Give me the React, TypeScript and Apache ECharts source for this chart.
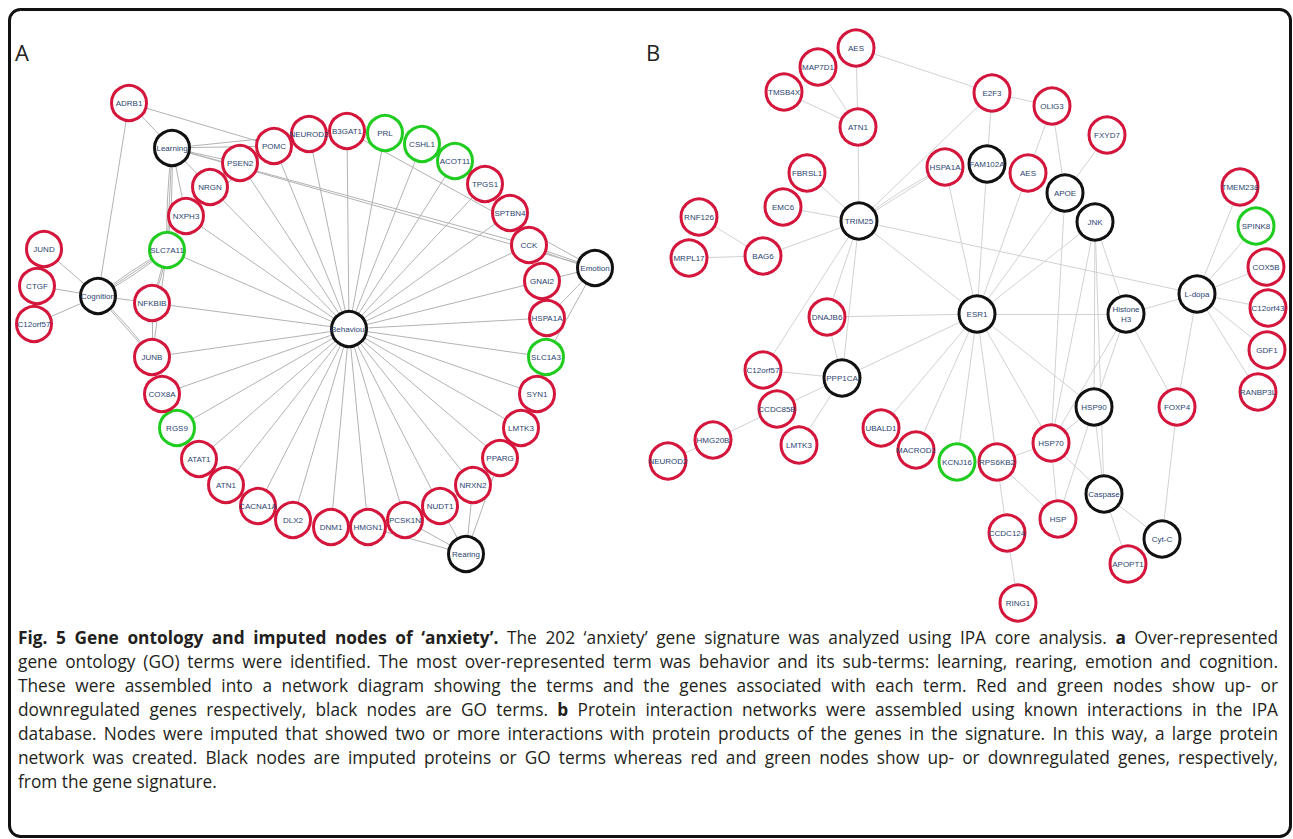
import React, { useEffect, useRef } from "react";
import * as echarts from "echarts";

type Kind = "up" | "down" | "term";
type NodeRow = [string, number, number, Kind];
type LinkRow = [string, string, number?];

const WIDTH = 1293;
const HEIGHT = 839;

// Panel A: GO terms (black) and the signature genes attached to them
const panelANodes: NodeRow[] = [
  ["ADRB1", 129, 103, "up"],
  ["Learning", 172, 148, "term"],
  ["POMC", 274, 146, "up"],
  ["NEUROD2", 309, 134, "up"],
  ["B3GAT1", 347, 131, "up"],
  ["PRL", 385, 133, "down"],
  ["CSHL1", 422, 144, "down"],
  ["ACOT11", 455, 161, "down"],
  ["TPGS1", 485, 184, "up"],
  ["SPTBN4", 510, 213, "up"],
  ["CCK", 529, 245, "up"],
  ["Emotion", 595, 268, "term"],
  ["GNAI2", 542, 281, "up"],
  ["HSPA1A", 547, 318, "up"],
  ["SLC1A3", 546, 357, "down"],
  ["SYN1", 537, 394, "up"],
  ["LMTK3", 521, 428, "up"],
  ["PPARG", 500, 458, "up"],
  ["NRXN2", 473, 485, "up"],
  ["NUDT1", 440, 506, "up"],
  ["PCSK1N", 405, 520, "up"],
  ["HMGN1", 368, 527, "up"],
  ["DNM1", 331, 527, "up"],
  ["DLX2", 293, 520, "up"],
  ["CACNA1A", 258, 506, "up"],
  ["ATN1", 226, 485, "up"],
  ["ATAT1", 199, 459, "up"],
  ["RGS9", 177, 428, "down"],
  ["COX8A", 162, 394, "up"],
  ["JUNB", 152, 357, "up"],
  ["NFKBIB", 152, 303, "up"],
  ["SLC7A11", 167, 250, "down"],
  ["NXPH3", 186, 216, "up"],
  ["NRGN", 210, 187, "up"],
  ["PSEN2", 240, 163, "up"],
  ["JUND", 44, 249, "up"],
  ["CTGF", 37, 286, "up"],
  ["C12orf57", 34, 324, "up"],
  ["Cognition", 98, 296, "term"],
  ["Behaviour", 349, 329, "term"],
  ["Rearing", 466, 554, "term"],
];

const behaviourGenes: string[] = [
  "SLC7A11", "NXPH3", "NRGN", "PSEN2", "POMC", "NEUROD2", "B3GAT1", "PRL",
  "CSHL1", "ACOT11", "TPGS1", "SPTBN4", "CCK", "GNAI2", "HSPA1A", "SLC1A3",
  "SYN1", "LMTK3", "PPARG", "NRXN2", "NUDT1", "PCSK1N", "HMGN1", "DNM1",
  "DLX2", "CACNA1A", "ATN1", "ATAT1", "RGS9", "COX8A", "JUNB", "NFKBIB",
];

const panelALinks: LinkRow[] = [
  ...behaviourGenes.map((g) => ["Behaviour", g] as LinkRow),
  ["Learning", "ADRB1"],
  ["Learning", "POMC"],
  ["Learning", "NEUROD2"],
  ["Learning", "PSEN2"],
  ["Learning", "NRGN"],
  ["Learning", "NXPH3"],
  ["Learning", "SLC7A11"],
  ["Learning", "SLC7A11", 0.04],
  ["Learning", "SLC7A11", -0.04],
  ["Learning", "CCK"],
  ["Learning", "Emotion"],
  ["B3GAT1", "Emotion"],
  ["ADRB1", "POMC"],
  ["ADRB1", "Cognition"],
  ["NXPH3", "POMC"],
  ["Cognition", "JUND"],
  ["Cognition", "CTGF"],
  ["Cognition", "C12orf57"],
  ["Cognition", "SLC7A11"],
  ["Cognition", "SLC7A11", 0.05],
  ["Cognition", "SLC7A11", -0.05],
  ["Cognition", "NFKBIB"],
  ["Cognition", "JUNB"],
  ["Cognition", "JUNB", 0.05],
  ["SLC7A11", "NFKBIB"],
  ["SLC7A11", "NFKBIB", 0.06],
  ["SLC7A11", "JUNB"],
  ["NFKBIB", "JUNB"],
  ["Emotion", "CCK"],
  ["Emotion", "CCK", 0.06],
  ["Emotion", "GNAI2"],
  ["Emotion", "HSPA1A"],
  ["Emotion", "SLC1A3"],
  ["Rearing", "NRXN2"],
  ["Rearing", "PPARG"],
  ["Rearing", "NUDT1"],
  ["Rearing", "PCSK1N"],
  ["Rearing", "HMGN1"],
];

// Panel B: imputed proteins / GO terms (black) and interacting signature genes
const panelBNodes: NodeRow[] = [
  ["AES", 856, 48, "up"],
  ["MAP7D1", 818, 67, "up"],
  ["TMSB4X", 784, 92, "up"],
  ["ATN1", 858, 127, "up"],
  ["FBRSL1", 807, 173, "up"],
  ["HSPA1A", 945, 167, "up"],
  ["EMC6", 783, 207, "up"],
  ["TRIM25", 859, 221, "term"],
  ["RNF126", 699, 217, "up"],
  ["MRPL17", 689, 258, "up"],
  ["BAG6", 763, 256, "up"],
  ["E2F3", 992, 93, "up"],
  ["OLIG3", 1052, 106, "up"],
  ["FXYD7", 1107, 135, "up"],
  ["FAM102A", 987, 164, "term"],
  ["AES-2", 1028, 173, "up"],
  ["APOE", 1065, 193, "term"],
  ["JNK", 1095, 222, "term"],
  ["TMEM238", 1240, 187, "up"],
  ["SPINK8", 1256, 226, "down"],
  ["COX5B", 1266, 267, "up"],
  ["L-dopa", 1197, 294, "term"],
  ["C12orf43", 1268, 308, "up"],
  ["GDF1", 1267, 350, "up"],
  ["RANBP3L", 1258, 392, "up"],
  ["DNAJB6", 827, 317, "up"],
  ["ESR1", 977, 314, "term"],
  ["Histone H3", 1126, 314, "term"],
  ["C12orf57", 763, 370, "up"],
  ["PPP1CA", 842, 378, "term"],
  ["CCDC85B", 777, 409, "up"],
  ["HMG20B", 713, 440, "up"],
  ["LMTK3", 799, 445, "up"],
  ["NEUROD2", 668, 461, "up"],
  ["UBALD1", 881, 428, "up"],
  ["MACROD1", 916, 450, "up"],
  ["KCNJ16", 957, 462, "down"],
  ["HSP90", 1094, 407, "term"],
  ["FOXP4", 1177, 407, "up"],
  ["HSP70", 1051, 443, "up"],
  ["RPS6KB2", 997, 462, "up"],
  ["Caspase", 1104, 494, "term"],
  ["HSP", 1058, 519, "up"],
  ["CCDC124", 1007, 533, "up"],
  ["Cyt-C", 1162, 539, "term"],
  ["APOPT1", 1128, 564, "up"],
  ["RING1", 1018, 603, "up"],
];

const panelBLinks: LinkRow[] = [
  ["AES", "ATN1"], ["AES", "E2F3"], ["MAP7D1", "ATN1"], ["TMSB4X", "ATN1"],
  ["ATN1", "TRIM25"], ["FBRSL1", "TRIM25"], ["EMC6", "TRIM25"], ["BAG6", "TRIM25"],
  ["RNF126", "BAG6"], ["MRPL17", "BAG6"],
  ["TRIM25", "HSPA1A"], ["TRIM25", "HSPA1A", 0.05], ["TRIM25", "E2F3"],
  ["TRIM25", "ESR1"], ["TRIM25", "L-dopa"], ["TRIM25", "DNAJB6"],
  ["TRIM25", "PPP1CA"], ["TRIM25", "C12orf57"],
  ["HSPA1A", "ESR1"], ["FAM102A", "E2F3"], ["FAM102A", "ESR1"],
  ["AES-2", "OLIG3"], ["AES-2", "ESR1"], ["OLIG3", "E2F3"], ["OLIG3", "APOE"],
  ["FXYD7", "APOE"], ["APOE", "ESR1"], ["APOE", "HSP70"],
  ["JNK", "ESR1"], ["JNK", "HSP70"], ["JNK", "HSP90"], ["JNK", "Caspase"],
  ["JNK", "Histone H3"],
  ["ESR1", "DNAJB6"], ["ESR1", "Histone H3"], ["ESR1", "PPP1CA"],
  ["ESR1", "UBALD1"], ["ESR1", "MACROD1"], ["ESR1", "KCNJ16"],
  ["ESR1", "RPS6KB2"], ["ESR1", "HSP70"], ["ESR1", "HSP90"],
  ["Histone H3", "L-dopa"], ["Histone H3", "HSP90"], ["Histone H3", "HSP70"],
  ["Histone H3", "FOXP4"],
  ["L-dopa", "TMEM238"], ["L-dopa", "SPINK8"], ["L-dopa", "COX5B"],
  ["L-dopa", "C12orf43"], ["L-dopa", "GDF1"], ["L-dopa", "RANBP3L"],
  ["L-dopa", "FOXP4"],
  ["HSP90", "HSP70"], ["HSP90", "HSP"], ["HSP90", "Caspase"],
  ["HSP70", "RPS6KB2"], ["HSP70", "HSP"], ["HSP70", "Caspase"],
  ["RPS6KB2", "HSP"], ["RPS6KB2", "CCDC124"], ["CCDC124", "RING1"],
  ["Caspase", "Cyt-C"], ["Caspase", "APOPT1"], ["FOXP4", "Cyt-C"],
  ["PPP1CA", "C12orf57"], ["PPP1CA", "CCDC85B"], ["PPP1CA", "LMTK3"],
  ["PPP1CA", "DNAJB6"], ["CCDC85B", "HMG20B"], ["HMG20B", "NEUROD2"],
];

const nodeText: Record<string, string> = {
  "AES-2": "AES",
  "Histone H3": "Histone\nH3",
};

const kindColor: Record<Kind, string> = {
  up: "#d4163c",
  down: "#1fcc1f",
  term: "#111111",
};

// Figure caption, one entry per printed line; [text, bold]
const captionLines: [string, boolean][][] = [
  [
    ["Fig. 5 Gene ontology and imputed nodes of \u2018anxiety\u2019.", true],
    ["The 202 \u2018anxiety\u2019 gene signature was analyzed using IPA core analysis.", false],
    ["a", true],
    ["Over-represented", false],
  ],
  [["gene ontology (GO) terms were identified. The most over-represented term was behavior and its sub-terms: learning, rearing, emotion and cognition.", false]],
  [["These were assembled into a network diagram showing the terms and the genes associated with each term. Red and green nodes show up- or", false]],
  [
    ["downregulated genes respectively, black nodes are GO terms.", false],
    ["b", true],
    ["Protein interaction networks were assembled using known interactions in the IPA", false],
  ],
  [["database. Nodes were imputed that showed two or more interactions with protein products of the genes in the signature. In this way, a large protein", false]],
  [["network was created. Black nodes are imputed proteins or GO terms whereas red and green nodes show up- or downregulated genes, respectively,", false]],
  [["from the gene signature.", false]],
];

const CAPTION_FAMILY = "Open Sans";
const CAPTION_SIZE = 17.3;
const CAPTION_LEFT = 18;
const CAPTION_RIGHT = 1278;
const CAPTION_TOP = 637;
const CAPTION_STEP = 24;

function captionGraphics(): any[] {
  const canvas = document.createElement("canvas");
  const ctx = canvas.getContext("2d")!;
  const fontOf = (bold: boolean) =>
    `${bold ? "bold " : ""}${CAPTION_SIZE}px "${CAPTION_FAMILY}"`;
  const out: any[] = [];
  captionLines.forEach((segments, li) => {
    const words: { t: string; b: boolean; w: number }[] = [];
    segments.forEach(([text, bold]) => {
      ctx.font = fontOf(bold);
      text.split(" ").forEach((t) => {
        if (t) words.push({ t, b: bold, w: ctx.measureText(t).width });
      });
    });
    ctx.font = fontOf(false);
    const space = ctx.measureText(" ").width;
    const total = words.reduce((s, w) => s + w.w, 0);
    const last = li === captionLines.length - 1;
    const gap = last || words.length < 2
      ? space
      : (CAPTION_RIGHT - CAPTION_LEFT - total) / (words.length - 1);
    let x = CAPTION_LEFT;
    const y = CAPTION_TOP + li * CAPTION_STEP;
    words.forEach((w) => {
      out.push({
        type: "text",
        x,
        y,
        silent: true,
        style: {
          text: w.t,
          fontFamily: CAPTION_FAMILY,
          fontSize: CAPTION_SIZE,
          fontWeight: w.b ? "bold" : "normal",
          fill: "#231f20",
          verticalAlign: "middle",
        },
      });
      x += w.w + gap;
    });
  });
  return out;
}

function graphSeries(id: string, nodes: NodeRow[], links: LinkRow[], edgeColor: string, size: number) {
  return {
    type: "graph",
    id,
    coordinateSystem: "cartesian2d",
    layout: "none",
    symbol: "circle",
    symbolSize: size,
    silent: true,
    emphasis: { disabled: true },
    data: nodes.map(([key, x, y, kind]) => ({
      name: key,
      value: [x, y],
      text: nodeText[key] ?? key,
      itemStyle: { color: "#ffffff", borderColor: kindColor[kind], borderWidth: 3 },
    })),
    links: links.map(([s, t, c]) => ({
      source: s,
      target: t,
      lineStyle: c ? { curveness: c } : {},
    })),
    lineStyle: { color: edgeColor, width: 1, opacity: 1, curveness: 0 },
    label: {
      show: true,
      position: "inside",
      formatter: (p: any) => p.data.text,
      fontSize: 8,
      lineHeight: 10,
      fontFamily: "Liberation Sans",
      color: "#2b4470",
    },
  };
}

export default function App() {
  const ref = useRef<HTMLDivElement>(null);

  useEffect(() => {
    if (!ref.current) return;
    const chart = echarts.init(ref.current, undefined, { renderer: "svg" });
    chart.setOption({
      animation: false,
      backgroundColor: "#ffffff",
      grid: { left: 0, right: 0, top: 0, bottom: 0 },
      xAxis: { type: "value", min: 0, max: WIDTH, show: false },
      yAxis: { type: "value", min: 0, max: HEIGHT, inverse: true, show: false },
      graphic: [
        {
          type: "rect",
          silent: true,
          shape: { x: 9.5, y: 9.5, width: 1281, height: 827, r: 11 },
          style: { fill: "none", stroke: "#111111", lineWidth: 3 },
        },
        {
          type: "text",
          x: 15,
          y: 52,
          silent: true,
          style: { text: "A", fontFamily: "Open Sans", fontSize: 22, fill: "#222222", verticalAlign: "middle" },
        },
        {
          type: "text",
          x: 646,
          y: 52,
          silent: true,
          style: { text: "B", fontFamily: "Open Sans", fontSize: 22, fill: "#222222", verticalAlign: "middle" },
        },
        ...captionGraphics(),
      ],
      series: [
        graphSeries("panelA", panelANodes, panelALinks, "#b3b3b3", 35),
        graphSeries("panelB", panelBNodes, panelBLinks, "#d2d2d2", 36),
      ],
    });
    return () => chart.dispose();
  }, []);

  return (
    <div
      ref={ref}
      style={{ position: "absolute", left: 0, top: 0, width: WIDTH, height: HEIGHT }}
    />
  );
}
